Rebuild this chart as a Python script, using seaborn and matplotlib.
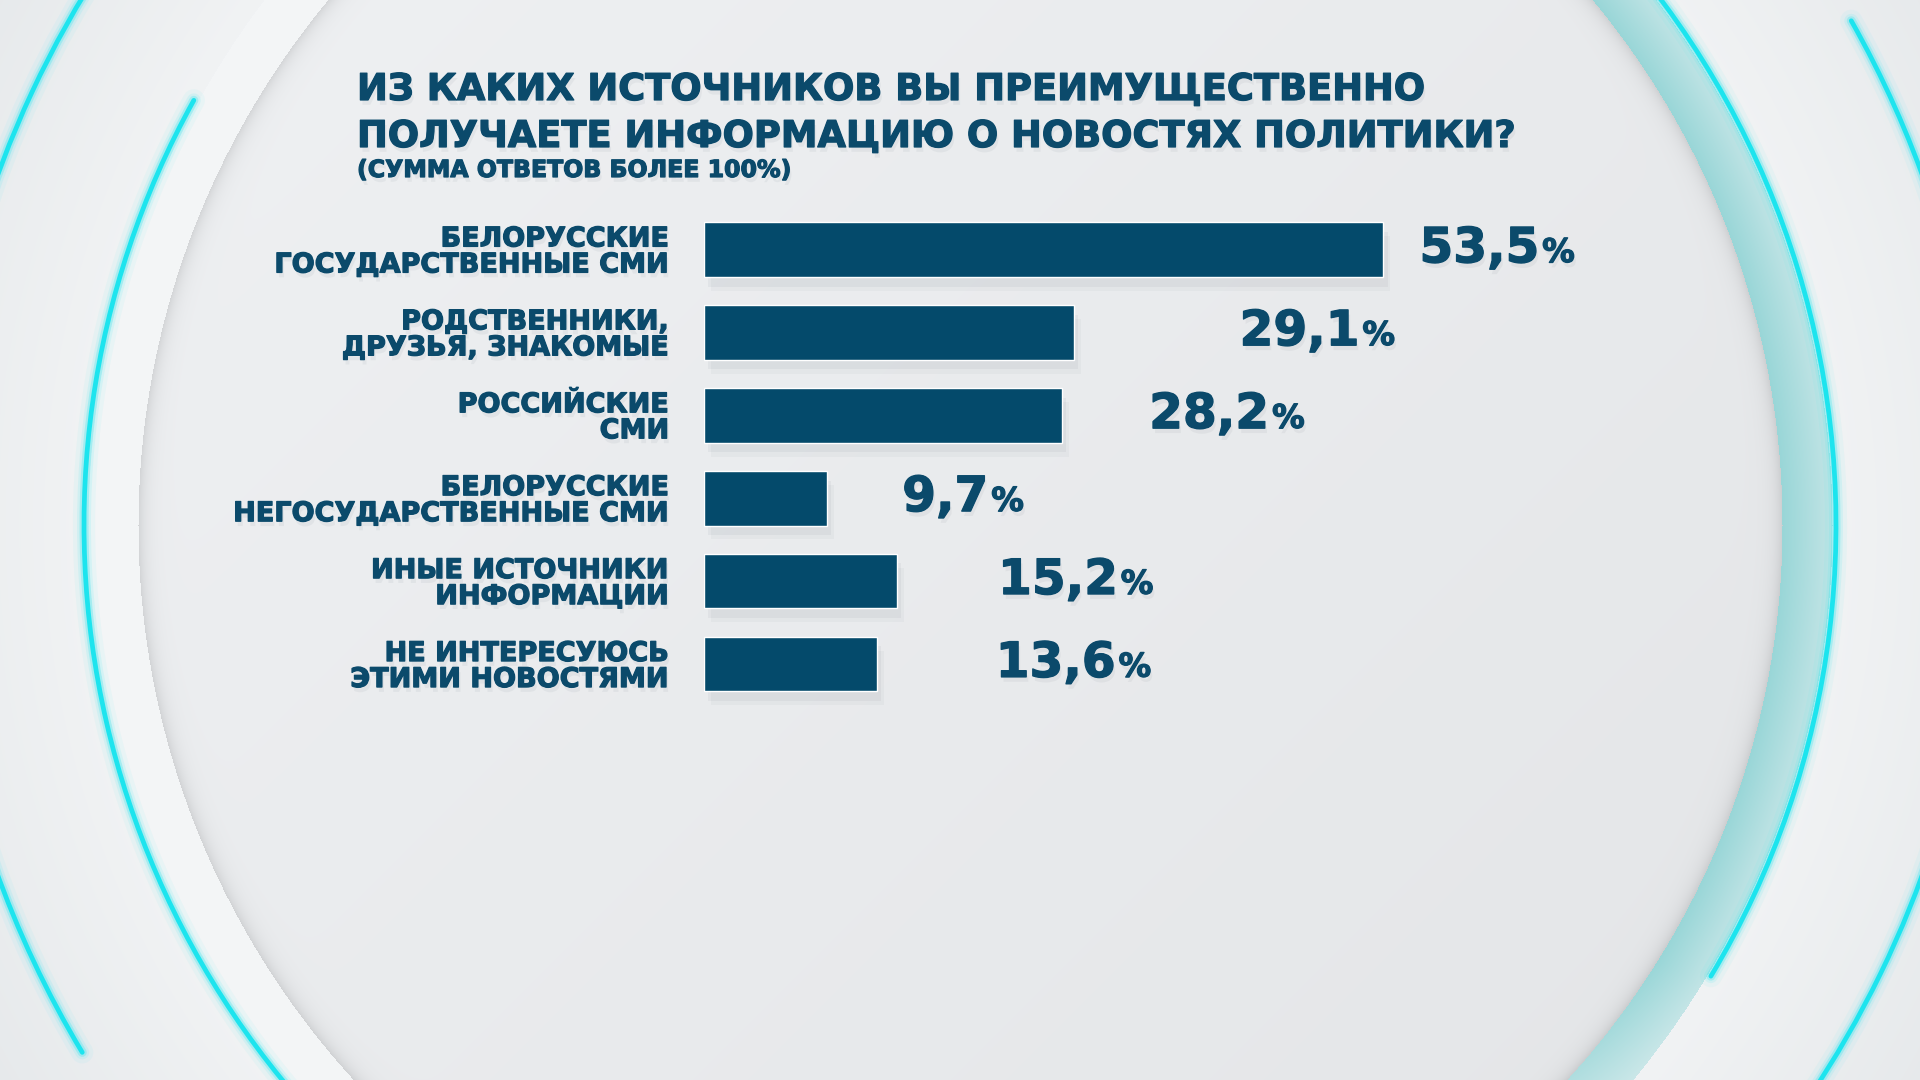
import numpy as np
import pandas as pd
import seaborn as sns
import matplotlib.pyplot as plt
import matplotlib.patheffects as pe
from matplotlib.patches import Arc

# --- data ---
categories = [
    'БЕЛОРУССКИЕ\nГОСУДАРСТВЕННЫЕ СМИ',
    'РОДСТВЕННИКИ,\nДРУЗЬЯ, ЗНАКОМЫЕ',
    'РОССИЙСКИЕ\nСМИ',
    'БЕЛОРУССКИЕ\nНЕГОСУДАРСТВЕННЫЕ СМИ',
    'ИНЫЕ ИСТОЧНИКИ\nИНФОРМАЦИИ',
    'НЕ ИНТЕРЕСУЮСЬ\nЭТИМИ НОВОСТЯМИ',
]
values = [53.5, 29.1, 28.2, 9.7, 15.2, 13.6]
value_text = ['53,5', '29,1', '28,2', '9,7', '15,2', '13,6']

title_lines = ['ИЗ КАКИХ ИСТОЧНИКОВ ВЫ ПРЕИМУЩЕСТВЕННО',
               'ПОЛУЧАЕТЕ ИНФОРМАЦИЮ О НОВОСТЯХ ПОЛИТИКИ?']
subtitle = '(СУММА ОТВЕТОВ БОЛЕЕ 100%)'

# --- layout / style ---
W, H = 1920, 1080
BAR = '#044a6b'
TXT = '#0b4a6b'
CYAN = '#1de4ee'
PX_PER_UNIT = 12.7
label_gap_px = [36, 166, 87, 75, 101, 119]

sns.set_theme(style='white')
plt.rcParams['font.family'] = ['DejaVu Sans']

fig = plt.figure(figsize=(W / 100, H / 100), dpi=100)

# background: disc, rim, glowing arcs
bg = fig.add_axes([0, 0, 1, 1])
bg.set_xlim(0, W)
bg.set_ylim(H, 0)
bg.axis('off')

cx, cy = 960, 525
r_disc, r_rim, r_out = 822, 872, 1024
yy, xx = np.mgrid[0:H, 0:W].astype(np.float32)
rr = np.hypot(xx - cx, yy - cy)
ang = np.arctan2(cy - yy, xx - cx)

t = np.clip((rr - r_rim) / 480, 0, 1)[..., None]
img = (1 - t) * np.array([0.945, 0.952, 0.957]) + t * np.array([0.862, 0.877, 0.888])

rim = (rr > r_disc) & (rr <= r_rim)
teal_w = np.clip((np.cos(ang - np.radians(5)) - 0.3) / 0.5, 0, 1)
teal_w = teal_w * (1 - 0.45 * np.clip((rr - r_disc) / (r_rim - r_disc), 0, 1))
teal_w = teal_w[..., None]
rim_col = (1 - teal_w) * np.array([0.955, 0.962, 0.967]) + teal_w * np.array([0.60, 0.84, 0.845])
img[rim] = rim_col[rim]

disc = rr <= r_disc
shade = ((xx - cx) + (yy - cy)) / (2 * r_disc)
disc_col = np.array([0.915, 0.922, 0.93]) - 0.025 * shade[..., None]
edge = 0.10 * np.exp(-np.clip(r_disc - rr, 0, None) / 8)[..., None]
img[disc] = (disc_col - edge)[disc]

bg.imshow(np.clip(img, 0, 1), extent=(0, W, H, 0), interpolation='nearest', aspect='auto', zorder=0)


def cyan_arc(r, a1, a2):
    # a1, a2: screen angles (counter-clockwise, y up); y axis is inverted
    for lw, al in [(16, 0.05), (10, 0.10), (6.5, 0.25)]:
        bg.add_patch(Arc((cx, cy), 2 * r, 2 * r, theta1=-a2, theta2=-a1,
                         color=CYAN, lw=lw, alpha=al, capstyle='round', zorder=2))
    bg.add_patch(Arc((cx, cy), 2 * r, 2 * r, theta1=-a2, theta2=-a1,
                     color=CYAN, lw=3.4, capstyle='round', zorder=3))


cyan_arc(r_rim + 4, 151, 235)
cyan_arc(r_rim + 4, -31, 65)
cyan_arc(r_out, 138, 172)
cyan_arc(r_out, 188, 211)
cyan_arc(r_out, 8, 29.5)
cyan_arc(r_out, -42, -10)

# soft shadow + slight stroke to make DejaVu look heavier
text_fx = [pe.SimplePatchShadow(offset=(1.5, -3.5), shadow_rgbFace='#6a7780', alpha=0.08),
           pe.withStroke(linewidth=0.9, foreground=TXT)]

# title
x0 = 357 / W
fig.text(x0, 1 - 100 / H, title_lines[0], fontsize=26.5, fontweight='bold', color=TXT,
         va='baseline', path_effects=text_fx)
fig.text(x0, 1 - 147 / H, title_lines[1], fontsize=26.5, fontweight='bold', color=TXT,
         va='baseline', path_effects=text_fx)
fig.text(x0, 1 - 177 / H, subtitle, fontsize=17, fontweight='bold', color=TXT,
         va='baseline', path_effects=text_fx)

# bars
ax_left, ax_top, ax_bottom = 704, 208, 705.5
ax = fig.add_axes([ax_left / W, 1 - ax_bottom / H, (W - ax_left) / W, (ax_bottom - ax_top) / H])
df = pd.DataFrame({'source': categories, 'share': values})
sns.barplot(data=df, x='share', y='source', orient='h', color=BAR, saturation=1,
            width=0.66, ax=ax)
ax.set_xlim(0, (W - ax_left) / PX_PER_UNIT)
ax.set_ylim(5.5, -0.5)
ax.set_facecolor('none')
sns.despine(ax=ax, left=True, bottom=True)
ax.set_xticks([])
ax.set_xlabel('')
ax.set_ylabel('')
ax.tick_params(axis='y', length=0, pad=25)
for lab in ax.get_yticklabels():
    lab.set_fontsize(19.5)
    lab.set_fontweight('bold')
    lab.set_color(TXT)
    lab.set_linespacing(1.0)
    lab.set_path_effects(text_fx)

for p in ax.patches:
    p.set_path_effects([pe.SimplePatchShadow(offset=(3, -7), shadow_rgbFace='#6a7780', alpha=0.07),
                        pe.SimplePatchShadow(offset=(5, -10), shadow_rgbFace='#6a7780', alpha=0.05),
                        pe.Normal()])

for i, (v, s) in enumerate(zip(values, value_text)):
    num = ax.annotate(s, xy=(v, i), xytext=(label_gap_px[i] * 0.72, -9.3),
                      textcoords='offset points', ha='left', va='baseline',
                      fontsize=35, fontweight='bold', color=TXT, path_effects=text_fx)
    ax.annotate('%', xy=(1, 0), xycoords=num, xytext=(2, 2.4), textcoords='offset points',
                ha='left', va='bottom', fontsize=23.5, fontweight='bold', color=TXT,
                path_effects=text_fx)

fig.savefig('out.png', dpi=100)
